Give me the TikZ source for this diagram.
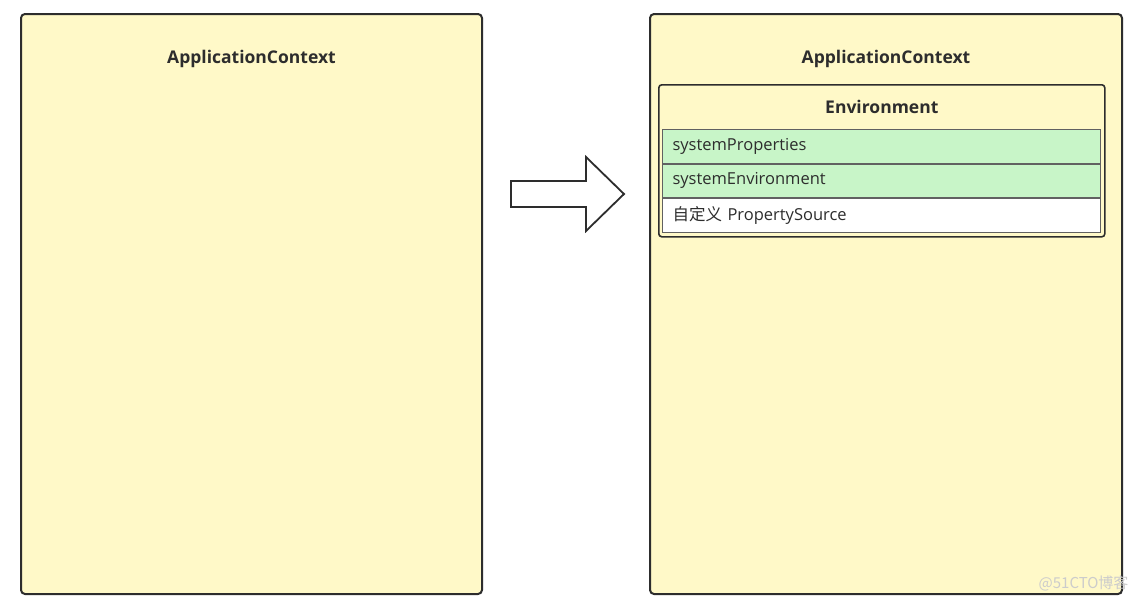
\documentclass[tikz,border=0pt]{standalone}
\usepackage{fontspec}
\setmainfont{Open Sans}
\newfontfamily\cjk{Noto Sans CJK SC}
\usetikzlibrary{positioning}
\definecolor{ctxfill}{RGB}{255,249,200}
\definecolor{srcgreen}{RGB}{200,245,200}
\definecolor{edge}{RGB}{45,45,45}

\begin{document}
\begin{tikzpicture}[x=1pt,y=-1pt,
    ctxbox/.style={draw=edge,line width=2pt,fill=ctxfill,rounded corners=4pt,anchor=north west},
    boxtitle/.style={font=\fontsize{17.5}{20}\selectfont\bfseries,text=edge},
    rowbox/.style={draw=edge!75,line width=1pt,minimum height=33.5pt,text width=418pt,
      inner xsep=10pt,inner ysep=0pt,align=left,font=\fontsize{16.5}{19}\selectfont,text=edge}]
  \useasboundingbox[fill=white] (0,0) rectangle (1140,608);
  % left and right context
  \node[ctxbox, minimum width=461pt, minimum height=580pt] (LeftCtx) at (20,13) {};
  \node[ctxbox, minimum width=472pt, minimum height=580pt] (RightCtx) at (649,13) {};
  \node[boxtitle, on grid, below=34pt of LeftCtx.north] (LeftTitle) {ApplicationContext};
  \node[boxtitle, on grid, below=34pt of RightCtx.north] (RightTitle) {ApplicationContext};
  % environment
  \node[ctxbox, line width=1.6pt, rounded corners=3pt, minimum width=446pt, minimum height=152pt] (Env) at (658,84) {};
  \node[boxtitle, on grid, below=13pt of Env.north] (EnvTitle) {Environment};
  \node[rowbox, fill=srcgreen, anchor=north west] (SysProps) at (662,129) {systemProperties};
  \node[rowbox, fill=srcgreen, below=0pt of SysProps] (SysEnv) {systemEnvironment};
  \node[rowbox, fill=white, below=0pt of SysEnv] (CustomSrc) {{\cjk 自定义} PropertySource};
  % arrow
  \draw[edge, line width=1.8pt, fill=white, line join=miter]
    (511,181) -- (586,181) -- (586,157) -- (624,194) -- (586,231) -- (586,207) -- (511,207) -- cycle;
  \node[text=gray!40, font=\cjk\fontsize{15}{17}\selectfont, anchor=east] (Mark) at (1132,583) {@51CTO博客};
\end{tikzpicture}
\end{document}
